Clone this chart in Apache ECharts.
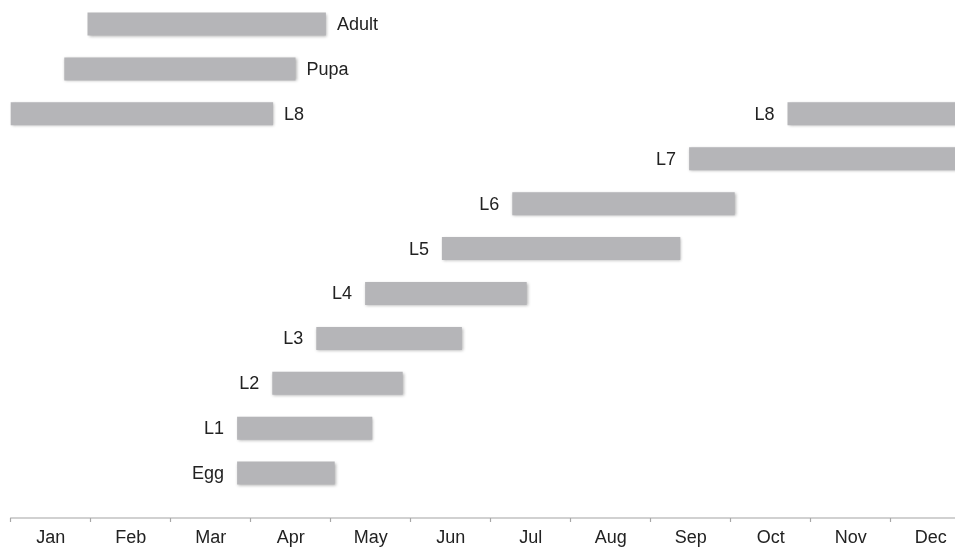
<!DOCTYPE html>
<html>
<head>
<meta charset="utf-8">
<script src="https://cdn.jsdelivr.net/npm/echarts@6/dist/echarts.min.js"></script>
<style>
html,body{margin:0;padding:0;background:#fff;}
#chart{width:955px;height:550px;}
</style>
</head>
<body>
<div id="chart"></div>
<script>
// Month tick labels
const months = ['Jan','Feb','Mar','Apr','May','Jun','Jul','Aug','Sep','Oct','Nov','Dec'];
// Life stages (rows, bottom to top)
const stages = ['Egg','L1','L2','L3','L4','L5','L6','L7','L8','Pupa','Adult'];
// Bars: stage name, start (months from Jan 1), end, label side
const barStage = ['Egg','L1','L2','L3','L4','L5','L6','L7','L8','L8','Pupa','Adult'];
const barStart = [2.83, 2.83, 3.27, 3.82, 4.43, 5.39, 6.27, 8.48, 9.71, 0.00, 0.67, 0.96];
const barEnd   = [4.05, 4.52, 4.90, 5.64, 6.45, 8.37, 9.05, 12.0, 12.0, 3.28, 3.56, 3.94];
const labelSide = ['left','left','left','left','left','left','left','left','left','right','right','right'];

const data = barStage.map((s, i) => [stages.indexOf(s), barStart[i], barEnd[i], i]);

const chart = echarts.init(document.getElementById('chart'));
chart.setOption({
  backgroundColor: '#fff',
  animation: false,
  grid: { left: 10.7, top: 1.6, bottom: 32, width: 960, outerBoundsMode: 'none', containLabel: false },
  xAxis: [{
    type: 'category',
    data: months,
    boundaryGap: true,
    axisLine: { onZero: false, lineStyle: { color: '#c2c2c2', width: 1.5 } },
    axisTick: { show: true, length: 4, lineStyle: { color: '#a8a8a8', width: 1.2 } },
    axisLabel: { fontSize: 18, color: '#222', margin: 11, fontFamily: 'Liberation Sans, Arial, sans-serif' },
    splitLine: { show: false }
  }, {
    type: 'value', min: 0, max: 12, show: false, position: 'bottom', axisLine: { onZero: false }
  }],
  yAxis: { type: 'value', min: -1, max: 10.5, show: false, splitLine: { show: false } },
  series: [{
    type: 'custom',
    xAxisIndex: 1,
    data: data,
    clip: false,
    renderItem: function (params, api) {
      const row = api.value(0), s = api.value(1), e = api.value(2), idx = api.value(3);
      const p0 = api.coord([s, row]);
      const p1 = api.coord([e, row]);
      const h = 23;
      const side = labelSide[idx];
      return {
        type: 'group',
        children: [{
          type: 'rect',
          shape: { x: p0[0], y: p0[1] - h / 2, width: p1[0] - p0[0], height: h },
          style: { fill: '#b5b5b8', shadowBlur: 3, shadowColor: 'rgba(0,0,0,0.3)', shadowOffsetX: 1, shadowOffsetY: 1 }
        }, {
          type: 'text',
          x: side === 'left' ? p0[0] - 13 : p1[0] + 11,
          y: p0[1] + 1,
          style: {
            text: barStage[idx],
            align: side === 'left' ? 'right' : 'left',
            verticalAlign: 'middle',
            fontSize: 18,
            fill: '#222',
            fontFamily: 'Liberation Sans, Arial, sans-serif'
          }
        }]
      };
    }
  }]
});
</script>
</body>
</html>
